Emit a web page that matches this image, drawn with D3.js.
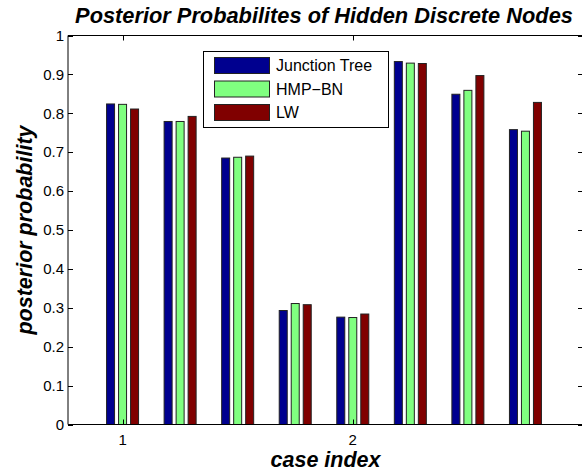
<!DOCTYPE html>
<html lang="en">

<head>
    <meta charset="UTF-8">
    <title>Posterior Probabilites of Hidden Discrete Nodes</title>
    <script src="https://d3js.org/d3.v7.min.js"></script>
    <style>
        body {
            margin: 0;
            background: #fff;
        }

        text {
            font-family: "Liberation Sans", Arial, sans-serif;
        }

        .tickText {
            font-size: 15px;
        }

        .bigLabel {
            font-size: 21.5px;
            font-weight: bold;
            font-style: italic;
        }

        .titleText {
            font-size: 21.8px;
            font-weight: bold;
            font-style: italic;
        }

        .legendText {
            font-size: 16px;
        }
    </style>
</head>

<body>
    <svg width="582" height="475"></svg>

    <script>
        // case positions on the x axis
        const caseIndex = [1, 1.25, 1.5, 1.75, 2, 2.25, 2.5, 2.75];
        const seriesNames = ["Junction Tree", "HMP\u2212BN", "LW"];
        const junctionTree = [0.824, 0.779, 0.685, 0.293, 0.276, 0.933, 0.849, 0.758];
        const hmpBN = [0.823, 0.779, 0.687, 0.311, 0.275, 0.929, 0.859, 0.754];
        const lw = [0.811, 0.792, 0.690, 0.308, 0.284, 0.928, 0.897, 0.828];
        const xTicks = [1, 2];
        const yTicks = [0, 0.1, 0.2, 0.3, 0.4, 0.5, 0.6, 0.7, 0.8, 0.9, 1];
        const barColors = ["#00008f", "#80ff80", "#800000"];

        const allSeries = [junctionTree, hmpBN, lw];

        let svg = d3.select("svg");

        const axLeft = 68, axRight = 583, axTop = 35.5, axBottom = 424.5;

        let x = d3.scaleLinear().domain([0.763, 3.0]).range([axLeft, axRight]);
        let y = d3.scaleLinear().domain([0, 1]).range([axBottom, axTop]);
        let inner = d3.scaleBand().domain(d3.range(seriesNames.length))
            .range([-16, 16]).paddingInner(1 / 3);

        // bars
        let groups = svg.append("g").selectAll("g")
            .data(caseIndex)
            .enter()
            .append("g")
            .attr("transform", function (d) { return "translate(" + x(d) + ",0)"; });

        groups.selectAll("rect")
            .data(function (d, i) {
                return allSeries.map(function (s, k) { return { k: k, v: s[i] }; });
            })
            .enter()
            .append("rect")
            .attr("x", function (d) { return inner(d.k); })
            .attr("width", inner.bandwidth())
            .attr("y", function (d) { return y(d.v); })
            .attr("height", function (d) { return y(0) - y(d.v); })
            .attr("fill", function (d) { return barColors[d.k]; })
            .attr("stroke", "#222")
            .attr("stroke-width", 1);

        // axes box
        let axisG = svg.append("g");
        axisG.append("line").attr("x1", axLeft).attr("x2", axLeft).attr("y1", axTop).attr("y2", axBottom)
            .attr("stroke", "black");
        axisG.append("line").attr("x1", axLeft).attr("x2", axRight).attr("y1", axBottom).attr("y2", axBottom)
            .attr("stroke", "black");
        axisG.append("line").attr("x1", axLeft).attr("x2", axRight).attr("y1", axTop).attr("y2", axTop)
            .attr("stroke", "black");
        axisG.append("line").attr("x1", axRight).attr("x2", axRight).attr("y1", axTop).attr("y2", axBottom)
            .attr("stroke", "black");

        // y ticks (left and right, inward)
        yTicks.forEach(function (t) {
            let yy = Math.round(y(t)) + 0.5;
            axisG.append("line").attr("x1", axLeft).attr("x2", axLeft + 5).attr("y1", yy).attr("y2", yy)
                .attr("stroke", "black");
            axisG.append("line").attr("x1", axRight - 5).attr("x2", axRight).attr("y1", yy).attr("y2", yy)
                .attr("stroke", "black");
            axisG.append("text").attr("class", "tickText")
                .attr("x", axLeft - 4).attr("y", y(t)).attr("dy", "0.35em")
                .attr("text-anchor", "end")
                .text(d3.format("")(t));
        });

        // x ticks (bottom and top, inward)
        xTicks.forEach(function (t) {
            let xx = Math.round(x(t)) + 0.5;
            axisG.append("line").attr("x1", xx).attr("x2", xx).attr("y1", axBottom).attr("y2", axBottom - 5)
                .attr("stroke", "black");
            axisG.append("line").attr("x1", xx).attr("x2", xx).attr("y1", axTop).attr("y2", axTop + 5)
                .attr("stroke", "black");
            axisG.append("text").attr("class", "tickText")
                .attr("x", x(t)).attr("y", axBottom + 20)
                .attr("text-anchor", "middle")
                .text(t);
        });

        // labels
        svg.append("text").attr("class", "titleText")
            .attr("x", 324).attr("y", 23)
            .attr("text-anchor", "middle")
            .text("Posterior Probabilites of Hidden Discrete Nodes");

        svg.append("text").attr("class", "bigLabel")
            .attr("x", (axLeft + axRight) / 2).attr("y", 467)
            .attr("text-anchor", "middle")
            .text("case index");

        svg.append("text").attr("class", "bigLabel")
            .attr("transform", "translate(32," + ((axTop + axBottom) / 2) + ") rotate(-90)")
            .attr("text-anchor", "middle")
            .text("posterior probability");

        // legend
        let legend = svg.append("g");
        legend.append("rect")
            .attr("x", 203.5).attr("y", 51.5).attr("width", 185).attr("height", 76)
            .attr("fill", "white").attr("stroke", "black");

        seriesNames.forEach(function (name, k) {
            let ly = 57.5 + k * 23.5;
            legend.append("rect")
                .attr("x", 214.5).attr("y", ly).attr("width", 55).attr("height", 16)
                .attr("fill", barColors[k]).attr("stroke", "#222");
            legend.append("text").attr("class", "legendText")
                .attr("x", 276).attr("y", ly + 8).attr("dy", "0.35em")
                .text(name);
        });
    </script>
</body>

</html>
